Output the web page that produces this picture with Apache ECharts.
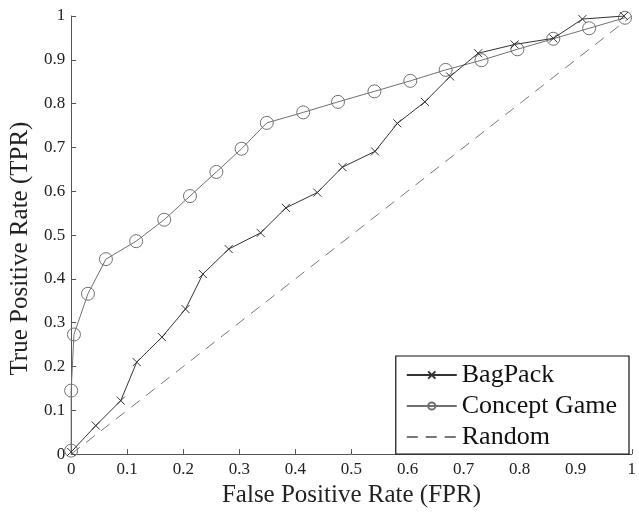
<!DOCTYPE html>
<html>
<head>
    <meta charset="utf-8">
    <script src="https://cdn.jsdelivr.net/npm/echarts@6/dist/echarts.min.js"></script>
    <style>
        html, body { margin: 0; padding: 0; background: #fff; }
        #container { width: 639px; height: 513px; }
    </style>
</head>
<body>
<div id="container"></div>
<script>
    // ROC points
    let bagFpr = [0, 0.044, 0.0885, 0.117, 0.162, 0.204, 0.235, 0.281, 0.338, 0.383, 0.439, 0.484, 0.542, 0.582, 0.631, 0.676, 0.726, 0.791, 0.860, 0.912, 0.986];
    let bagTpr = [0.005, 0.065, 0.122, 0.210, 0.267, 0.331, 0.411, 0.468, 0.505, 0.562, 0.597, 0.655, 0.691, 0.755, 0.804, 0.862, 0.915, 0.935, 0.949, 0.993, 1.0];
    let cgFpr = [0, 0, 0.005, 0.030, 0.062, 0.116, 0.166, 0.212, 0.259, 0.304, 0.349, 0.414, 0.476, 0.541, 0.605, 0.668, 0.732, 0.796, 0.860, 0.924, 0.988];
    let cgTpr = [0.008, 0.145, 0.273, 0.366, 0.445, 0.486, 0.535, 0.589, 0.644, 0.697, 0.756, 0.780, 0.804, 0.828, 0.852, 0.877, 0.899, 0.924, 0.948, 0.972, 0.996];
    let randFpr = [0, 1];
    let randTpr = [0, 1];

    function zip(xs, ys) {
        return xs.map(function (x, i) { return [x, ys[i]]; });
    }

    let serif = 'Liberation Serif';
    let dom = document.getElementById("container");
    let myChart = echarts.init(dom, null, {renderer: 'canvas'});
    let option = {
        animation: false,
        backgroundColor: '#fff',
        grid: {
            left: 71,
            right: 3,
            top: 16,
            bottom: 50
        },
        xAxis: {
            type: 'value',
            min: 0,
            max: 1,
            interval: 0.1,
            name: 'False Positive Rate (FPR)',
            nameLocation: 'middle',
            nameGap: 25,
            nameTextStyle: {fontFamily: serif, fontSize: 25, color: '#222'},
            axisLine: {show: true, lineStyle: {color: '#555', width: 1}},
            axisTick: {show: true, inside: true, length: 5, lineStyle: {color: '#555'}},
            axisLabel: {fontFamily: serif, fontSize: 17, color: '#222', margin: 7},
            splitLine: {show: false}
        },
        yAxis: {
            type: 'value',
            min: 0,
            max: 1,
            interval: 0.1,
            name: 'True Positive Rate (TPR)',
            nameLocation: 'middle',
            nameGap: 31,
            nameTextStyle: {fontFamily: serif, fontSize: 25, color: '#222', padding: [0, 27, 0, 0]},
            axisLine: {show: true, lineStyle: {color: '#555', width: 1}},
            axisTick: {show: true, inside: true, length: 5, lineStyle: {color: '#555'}},
            axisLabel: {fontFamily: serif, fontSize: 17, color: '#222', margin: 6},
            splitLine: {show: false}
        },
        legend: {
            orient: 'vertical',
            right: 10,
            bottom: 59,
            itemWidth: 50,
            itemHeight: 9,
            itemGap: 5,
            padding: [6, 12, 4, 10],
            borderColor: '#111',
            borderWidth: 1.2,
            backgroundColor: '#fff',
            textStyle: {fontFamily: serif, fontSize: 26, color: '#111'},
            data: [
                {name: 'BagPack'},
                {name: 'Concept Game'},
                {name: 'Random', itemStyle: {opacity: 0}}
            ]
        },
        series: [
            {
                name: 'Random',
                type: 'line',
                data: zip(randFpr, randTpr),
                symbol: 'none',
                lineStyle: {color: '#777', width: 1, type: [11, 8]},
                itemStyle: {color: '#777'},
                z: 1
            },
            {
                name: 'Concept Game',
                type: 'line',
                data: zip(cgFpr, cgTpr),
                symbol: 'circle',
                symbolSize: 13,
                lineStyle: {color: '#707070', width: 1},
                itemStyle: {color: 'rgba(255,255,255,0)', borderColor: '#707070', borderWidth: 1},
                z: 2
            },
            {
                name: 'BagPack',
                type: 'line',
                data: zip(bagFpr, bagTpr),
                symbol: 'path://M0,0L10,10M10,0L0,10',
                symbolSize: 8,
                lineStyle: {color: '#333', width: 1},
                itemStyle: {color: '#333', borderColor: '#333', borderWidth: 1},
                z: 3
            }
        ]
    };
    myChart.setOption(option);
</script>
</body>
</html>
